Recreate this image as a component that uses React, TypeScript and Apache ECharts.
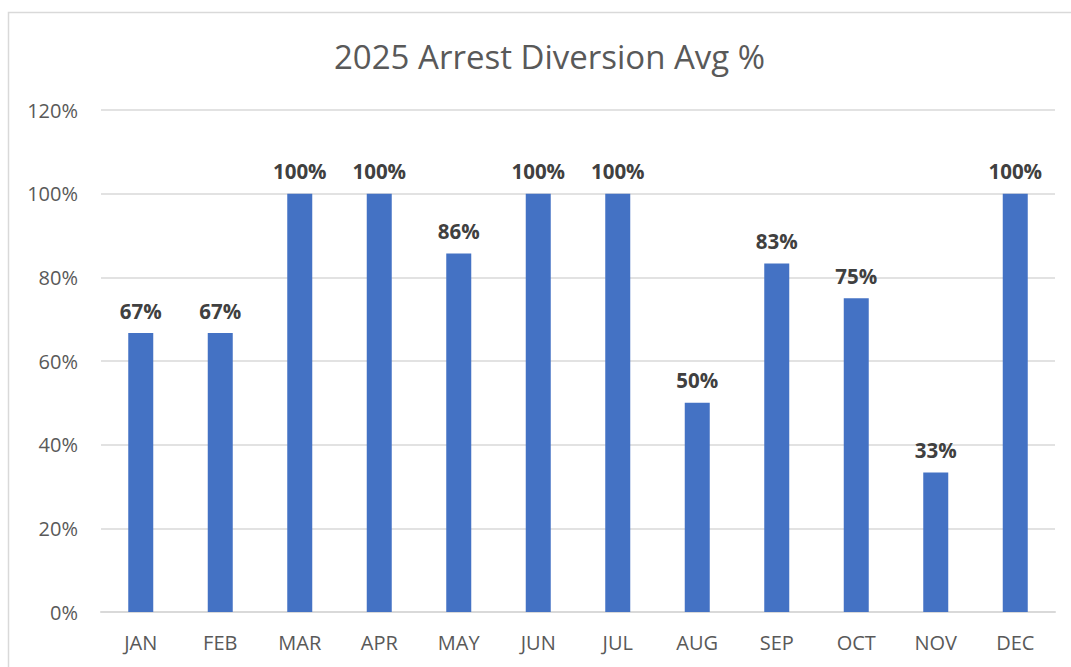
import React, { useEffect, useRef } from "react";
import * as echarts from "echarts";

const months = ["JAN", "FEB", "MAR", "APR", "MAY", "JUN", "JUL", "AUG", "SEP", "OCT", "NOV", "DEC"];
const values = [66.67, 66.67, 100, 100, 85.71, 100, 100, 50, 83.33, 75, 33.33, 100];
const titleText = "2025 Arrest Diversion Avg %";

export default function App() {
  const ref = useRef<HTMLDivElement>(null);
  useEffect(() => {
    document.body.style.margin = "0";
    document.body.style.overflow = "hidden";
    const chart = echarts.init(ref.current!, null, { renderer: "svg" });
    const font = "'Open Sans', sans-serif";
    chart.setOption({
      animation: false,
      backgroundColor: "#ffffff",
      textStyle: { fontFamily: font },
      title: {
        text: titleText,
        left: 334,
        top: 40,
        padding: 0,
        textStyle: { fontFamily: font, fontSize: 33, fontWeight: "normal", color: "#595959" },
      },
      graphic: [
        {
          type: "rect",
          shape: { x: 8.5, y: 12.5, width: 1100, height: 700 },
          style: { fill: "none", stroke: "#d9d9d9", lineWidth: 1.5 },
          silent: true,
        },
      ],
      grid: { left: 101, right: 16, top: 110, bottom: 55 },
      xAxis: {
        type: "category",
        data: months,
        axisTick: { show: false },
        axisLine: { lineStyle: { color: "#d9d9d9", width: 2 } },
        axisLabel: { color: "#595959", fontSize: 20, margin: 20, fontFamily: font },
      },
      yAxis: {
        type: "value",
        min: 0,
        max: 120,
        interval: 20,
        axisLine: { show: false },
        axisTick: { show: false },
        splitLine: { lineStyle: { color: "#d9d9d9", width: 1.5 } },
        axisLabel: {
          color: "#595959",
          fontSize: 20,
          margin: 23,
          fontFamily: font,
          formatter: (v: number) => `${v}%`,
        },
      },
      series: [
        {
          type: "bar",
          data: values,
          barWidth: 25,
          itemStyle: { color: "#4472C4" },
          label: {
            show: true,
            position: "top",
            distance: 12,
            color: "#404040",
            fontSize: 20.5,
            fontWeight: "bold",
            fontFamily: font,
            formatter: (p: any) => `${Math.round(p.value)}%`,
          },
        },
      ],
    });
    return () => chart.dispose();
  }, []);
  return <div ref={ref} style={{ width: 1071, height: 667 }} />;
}
